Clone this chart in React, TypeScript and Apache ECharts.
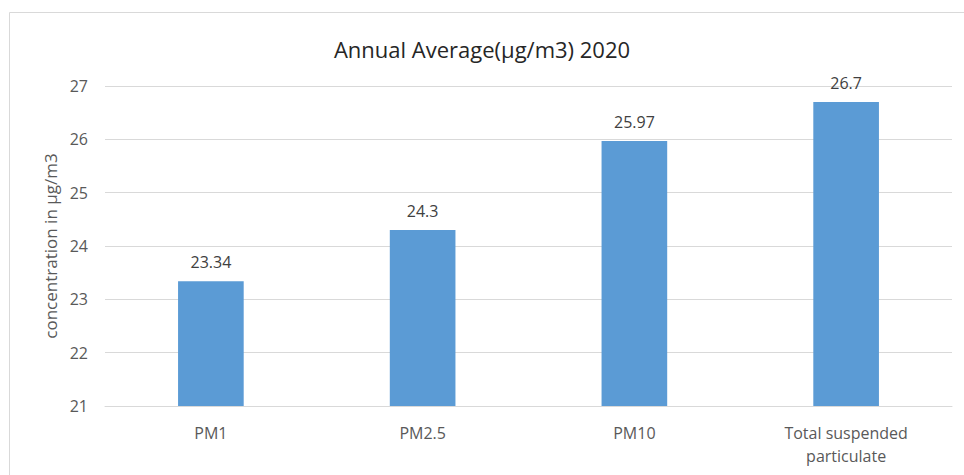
import React, { useEffect, useRef } from "react";
import * as echarts from "echarts";

const categories = ["PM1", "PM2.5", "PM10", "Total suspended\nparticulate"];
const values = [23.34, 24.3, 25.97, 26.7];
const titleText = "Annual Average(µg/m3) 2020";
const yAxisName = "concentration in µg/m3";

const FONT = "'Open Sans', sans-serif";

export default function App() {
  const ref = useRef<HTMLDivElement>(null);
  useEffect(() => {
    if (!ref.current) return;
    const chart = echarts.init(ref.current, undefined, { renderer: "svg" });
    chart.setOption({
      animation: false,
      backgroundColor: "#ffffff",
      title: {
        text: titleText,
        left: "center",
        top: 33,
        textStyle: { fontFamily: FONT, fontSize: 22, fontWeight: "normal", color: "#262626" },
      },
      graphic: [
        {
          type: "rect",
          shape: { x: 9.5, y: 12.5, width: 970, height: 480 },
          style: { fill: "none", stroke: "#d9d9d9", lineWidth: 1 },
          silent: true,
        },
      ],
      grid: { left: 105, right: 12, top: 86, bottom: 69 },
      xAxis: {
        type: "category",
        data: categories,
        axisLine: { lineStyle: { color: "#d9d9d9" } },
        axisTick: { show: false },
        axisLabel: { color: "#595959", fontSize: 16, fontFamily: FONT, margin: 15, lineHeight: 23 },
      },
      yAxis: {
        type: "value",
        min: 21,
        max: 27,
        interval: 1,
        name: yAxisName,
        nameLocation: "middle",
        nameGap: 44,
        nameTextStyle: { color: "#595959", fontSize: 17, fontFamily: FONT },
        axisLine: { show: false },
        axisTick: { show: false },
        axisLabel: { color: "#595959", fontSize: 16, fontFamily: FONT, margin: 17 },
        splitLine: { lineStyle: { color: "#d9d9d9" } },
      },
      series: [
        {
          type: "bar",
          data: values,
          barWidth: "31%",
          itemStyle: { color: "#5B9BD5" },
          label: {
            show: true,
            position: "top",
            distance: 11,
            color: "#404040",
            fontSize: 16,
            fontFamily: FONT,
          },
        },
      ],
    });
    return () => chart.dispose();
  }, []);
  return (
    <div
      ref={ref}
      style={{ position: "fixed", left: 0, top: 0, width: 964, height: 475 }}
    />
  );
}
